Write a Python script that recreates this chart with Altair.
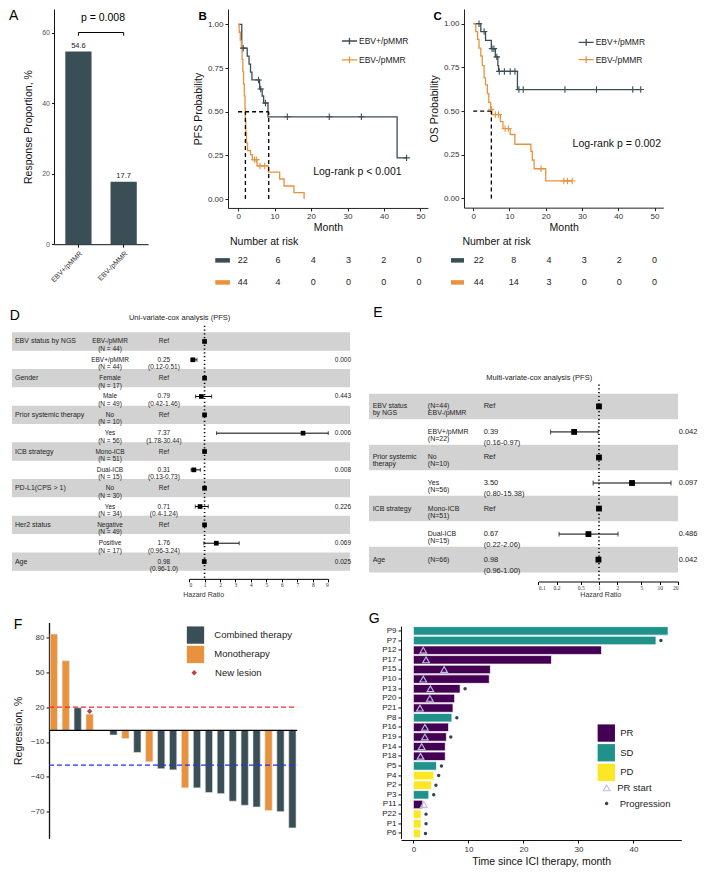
import altair as alt
import pandas as pd

K = 0.98


def P(v):
    return round(v * K, 2)


FONT = "Liberation Sans"
DARK = "#3A4E56"
ORANGE = "#E8923E"
PURPLE = "#440154"
TEAL = "#21918C"
YELLOW = "#FDE725"
RED_PT = "#B5454A"
BAND = "#D2D2D2"
TRI = "#BDBDE3"
DOT = "#2F484F"
PLUS = "M-1,0L1,0M0,-1L0,1"
LEG_PLUS = "M-1,0L1,0M0,-0.45L0,0.45"

# ====================== DATA ======================
GROUPS = ["EBV+/pMMR", "EBV-/pMMR"]

# A
A_values = [54.6, 17.7]
A_labels = ["54.6", "17.7"]
A_ticks = [0, 20, 40, 60]
A_pval = "p = 0.008"

# B (PFS)
PFS_pos_t = [0, 1.0, 2.5, 3.0, 3.4, 3.8, 5.9, 6.6, 7.0, 8.2, 43.6, 46.2]
PFS_pos_s = [1.0, 0.864, 0.818, 0.773, 0.727, 0.682, 0.630, 0.590, 0.550, 0.471, 0.236, 0.236]
PFS_pos_cens_t = [1.4, 5.6, 6.2, 7.5, 13.5, 25.0, 33.8, 46.2]
PFS_pos_cens_s = [0.864, 0.682, 0.630, 0.550, 0.471, 0.471, 0.471, 0.236]
PFS_neg_t = [0, 0.3, 0.6, 0.9, 1.1, 1.3, 1.5, 1.7, 1.9, 2.0, 2.1, 2.3, 2.6, 3.4, 3.9, 5.2, 8.3, 11.4, 12.6, 15.3, 18.1]
PFS_neg_s = [1.0, 0.955, 0.909, 0.864, 0.80, 0.73, 0.66, 0.59, 0.52, 0.45, 0.38, 0.32, 0.277, 0.255, 0.226, 0.19, 0.155, 0.115, 0.075, 0.037, 0.0]
PFS_neg_cens_t = [4.5, 5.0, 6.0, 7.3]
PFS_neg_cens_s = [0.226, 0.226, 0.19, 0.19]
PFS_medians = [2.0, 8.4]
PFS_logrank = "Log-rank  p < 0.001"

# C (OS)
OS_pos_t = [0, 2.1, 3.4, 5.0, 6.1, 6.8, 7.0, 12.2, 46.2]
OS_pos_s = [1.0, 0.955, 0.905, 0.857, 0.81, 0.76, 0.727, 0.623, 0.623]
OS_pos_cens_t = [1.6, 3.0, 5.2, 5.7, 6.5, 7.2, 8.6, 10.2, 11.5, 12.6, 13.8, 25.3, 34.0, 44.0, 46.2]
OS_pos_cens_s = [1.0, 0.955, 0.857, 0.857, 0.81, 0.727, 0.727, 0.727, 0.727, 0.623, 0.623, 0.623, 0.623, 0.623, 0.623]
OS_neg_t = [0, 0.7, 1.2, 1.6, 2.1, 2.5, 3.0, 3.4, 3.9, 4.3, 4.8, 5.2, 7.5, 8.2, 10.2, 11.5, 15.9, 16.3, 16.8, 20.0, 27.3]
OS_neg_s = [1.0, 0.955, 0.91, 0.86, 0.815, 0.76, 0.69, 0.65, 0.60, 0.55, 0.51, 0.48, 0.44, 0.40, 0.366, 0.31, 0.27, 0.22, 0.17, 0.10, 0.10]
OS_neg_cens_t = [5.0, 6.1, 7.0, 8.8, 9.7, 18.7, 25.0, 26.0, 27.3]
OS_neg_cens_s = [0.51, 0.48, 0.48, 0.40, 0.40, 0.17, 0.10, 0.10, 0.10]
OS_medians = [5.0]
OS_logrank = "Log-rank p = 0.002"

RISK_months = [0, 10, 20, 30, 40, 50]
PFS_risk_pos = [22, 6, 4, 3, 2, 0]
PFS_risk_neg = [44, 4, 0, 0, 0, 0]
OS_risk_pos = [22, 8, 4, 3, 2, 0]
OS_risk_neg = [44, 14, 3, 0, 0, 0]

# D (uni-variate cox)
D_group = ["EBV status by NGS", "", "Gender", "", "Prior systemic therapy", "", "ICB strategy", "",
           "PD-L1(CPS > 1)", "", "Her2 status", "", "Age"]
D_sub = ["EBV-/pMMR\n(N = 44)", "EBV+/pMMR\n(N = 44)", "Female\n(N = 17)", "Male\n(N = 49)",
         "No\n(N = 10)", "Yes\n(N = 56)", "Mono-ICB\n(N = 51)", "Dual-ICB\n(N = 15)",
         "No\n(N = 30)", "Yes\n(N = 34)", "Negative\n(N = 49)", "Positive\n(N = 17)", ""]
D_hrtext = ["Ref", "0.25\n(0.12-0.51)", "Ref", "0.79\n(0.42-1.46)", "Ref", "7.37\n(1.78-30.44)",
            "Ref", "0.31\n(0.13-0.73)", "Ref", "0.71\n(0.4-1.24)", "Ref", "1.76\n(0.96-3.24)",
            "0.98\n(0.96-1.0)"]
D_hr = [1, 0.25, 1, 0.79, 1, 7.37, 1, 0.31, 1, 0.71, 1, 1.76, 0.98]
D_lo = [None, 0.12, None, 0.42, None, 1.78, None, 0.13, None, 0.4, None, 0.96, 0.96]
D_hi = [None, 0.51, None, 1.46, None, 30.44, None, 0.73, None, 1.24, None, 3.24, 1.0]
D_p = ["", "0.000", "", "0.443", "", "0.006", "", "0.008", "", "0.226", "", "0.069", "0.025"]
D_ticks = [0, 1, 2, 3, 4, 5, 6, 7, 8, 9]

# E (multi-variate cox)
E_group = ["EBV status\n by NGS", "", "Prior systemic\ntherapy", "", "ICB strategy", "", "Age"]
E_sub = ["(N=44)\nEBV-/pMMR", "EBV+/pMMR\n(N=22)", "No\n(N=10)", "Yes\n(N=56)",
         "Mono-ICB\n(N=51)", "Dual-ICB\n(N=15)", "(N=66)"]
E_hrtext = ["Ref", "0.39\n(0.16-0.97)", "Ref", "3.50\n(0.80-15.38)", "Ref", "0.67\n(0.22-2.06)",
            "0.98\n(0.96-1.00)"]
E_hr = [1, 0.39, 1, 3.50, 1, 0.67, 0.98]
E_lo = [None, 0.16, None, 0.80, None, 0.22, 0.96]
E_hi = [None, 0.97, None, 15.38, None, 2.06, 1.00]
E_p = ["", "0.042", "", "0.097", "", "0.486", "0.042"]
E_ticks = [0.1, 0.2, 0.5, 1, 2, 5, 10, 20]

# F (waterfall)
F_slots = [str(i) for i in range(1, 22)]
F_values = [83, 60, 19.5, 14, None, -4, -7, -19, -27, -33, -34, -49.5, -49.5, -53.5, -54.5,
            -61, -64.5, -66, -69, -70, -84]
F_types = ["Monotherapy", "Monotherapy", "Combined therapy", "Monotherapy", None,
           "Combined therapy", "Monotherapy", "Combined therapy", "Monotherapy",
           "Combined therapy", "Combined therapy", "Monotherapy", "Combined therapy",
           "Combined therapy", "Combined therapy", "Combined therapy", "Combined therapy",
           "Combined therapy", "Monotherapy", "Combined therapy", "Combined therapy"]
F_newlesion_slot = ["4"]
F_newlesion_val = [16.5]
F_ticks = [80, 50, 20, -10, -40, -70]
F_thresholds = [20, -30]

# G (swimmer)
G_patients = ["P9", "P7", "P12", "P17", "P15", "P10", "P13", "P20", "P21", "P8", "P16", "P19",
              "P14", "P18", "P5", "P4", "P2", "P3", "P11", "P22", "P1", "P6"]
G_duration = [46.3, 44.1, 34.2, 25.1, 14.0, 13.8, 8.5, 7.5, 7.2, 7.0, 6.4, 6.0, 5.8, 5.8,
              4.2, 3.7, 3.3, 2.8, 1.7, 1.4, 1.4, 1.3]
G_response = ["SD", "SD", "PR", "PR", "PR", "PR", "PR", "PR", "PR", "SD", "PR", "PR", "PR", "PR",
              "SD", "PD", "PD", "SD", "PR", "PD", "PD", "PD"]
G_pr_start = [None, None, 1.8, 2.3, 5.6, 1.8, 3.1, 3.0, 1.2, None, 2.1, 2.1, 1.5, 1.3,
              None, None, None, None, 1.9, None, None, None]
G_progression = [None, 45.0, None, None, None, None, 9.4, None, None, 7.9, None, 6.8, None, None,
                 5.1, 4.6, 4.1, 3.7, None, 2.3, 2.3, 2.2]
G_ticks = [0, 10, 20, 30, 40]

ONE = pd.DataFrame({"v": [0]})


def letter(txt, x, y, size=14, weight="normal"):
    return alt.Chart(ONE).mark_text(align="left", baseline="top", fontSize=size,
                                    fontWeight=weight, color="black").encode(
        x=alt.value(P(x)), y=alt.value(P(y)), text=alt.value(txt))


def spacer(w, h=1):
    return alt.Chart(ONE).mark_point(opacity=0, size=1).encode(
        x=alt.value(0), y=alt.value(0)).properties(width=P(w), height=P(h))


def anchor(x, y):
    # invisible mark that reserves layout room
    return alt.Chart(ONE).mark_point(opacity=0, size=1).encode(
        x=alt.value(P(x)), y=alt.value(P(y)))


# ====================== PANEL A ======================
def panel_a():
    W, H = 96, 240
    df = pd.DataFrame({"group": GROUPS, "value": A_values, "label": A_labels})
    xs = alt.Scale(domain=GROUPS, paddingInner=0.42, paddingOuter=0.25)
    ys = alt.Scale(domain=[0, 66.67], nice=False, zero=True)
    xax = alt.Axis(title=None, labelAngle=-45, labelFontSize=7, labelColor="#333",
                   labelPadding=2, tickSize=3, tickColor="#111", domainColor="#111", grid=False)
    yax = alt.Axis(values=A_ticks, title="Response Proportion, %", titleFontSize=10.5,
                   titleFontWeight="normal", titleColor="#111", titlePadding=8,
                   labelFontSize=7, labelColor="#555", tickSize=2.5, tickColor="#111",
                   domainColor="#111", grid=False)
    X = lambda f: alt.X(f, scale=xs, axis=xax, sort=GROUPS)
    Y = lambda f: alt.Y(f, scale=ys, axis=yax)
    bars = alt.Chart(df).mark_bar(color=DARK).encode(x=X("group:N"), y=Y("value:Q"))
    lab = alt.Chart(df).mark_text(baseline="bottom", dy=-2, fontSize=7.5, color="#222").encode(
        x=X("group:N"), y=Y("value:Q"), text="label:N")
    brk = pd.DataFrame({"a": [GROUPS[0]], "b": [GROUPS[1]], "y": [60]})
    bracket = alt.Chart(brk).mark_rule(color="black", strokeWidth=1).encode(
        x=X("a:N"), x2="b:N", y=Y("y:Q"))
    ends = pd.DataFrame({"g": GROUPS, "y": [60, 60], "y2": [59.1, 59.1]})
    bends = alt.Chart(ends).mark_rule(color="black", strokeWidth=1).encode(
        x=X("g:N"), y=Y("y:Q"), y2="y2:Q")
    pdf = pd.DataFrame({"y": [64.1], "t": [A_pval]})
    ptxt = alt.Chart(pdf).mark_text(fontSize=10.5, color="black").encode(
        x=alt.value(P(50)), y=Y("y:Q"), text="t:N")
    return alt.layer(bars, lab, bracket, bends, ptxt, letter("A", -46, 0)).properties(
        width=P(W), height=P(H))


# ====================== KM PANELS ======================
def km_panel(let, pos, neg, posc, negc, medians, lr_text, lr_xy, risk_pos, risk_neg, ytitle,
             W, H, xdom, ydom, risk_rng, leg_xy, leg_pad, nar_x, sw_x, let_xy):
    curve = pd.DataFrame({"t": pos[0] + neg[0], "s": pos[1] + neg[1],
                          "grp": [GROUPS[0]] * len(pos[0]) + [GROUPS[1]] * len(neg[0])})
    cens = pd.DataFrame({"t": posc[0] + negc[0], "s": posc[1] + negc[1],
                         "grp": [GROUPS[0]] * len(posc[0]) + [GROUPS[1]] * len(negc[0])})
    xs = alt.Scale(domain=xdom, nice=False, zero=False)
    ys = alt.Scale(domain=ydom, nice=False, zero=False)
    leg = alt.Legend(title=None, orient="none", legendX=P(leg_xy[0]), legendY=P(leg_xy[1]),
                     symbolType=LEG_PLUS, symbolSize=225, symbolStrokeWidth=1.3,
                     labelFontSize=8.5, labelColor="#222", labelOffset=1,
                     rowPadding=P(leg_pad), padding=0)
    col = alt.Color("grp:N", scale=alt.Scale(domain=GROUPS, range=[DARK, ORANGE]), legend=leg)
    xax = alt.Axis(values=RISK_months, title="Month", titleFontSize=10.5, titleFontWeight="normal",
                   titleColor="#111", titlePadding=2, labelFontSize=8, labelColor="#333",
                   labelPadding=2, tickSize=3, tickColor="#222", domainColor="#222", grid=False)
    yax = alt.Axis(values=[0, 0.25, 0.5, 0.75, 1.0], format=".2f", title=ytitle,
                   titleFontSize=10.5, titleFontWeight="normal", titleColor="#111",
                   titlePadding=4, labelFontSize=8, labelColor="#333", labelPadding=2,
                   tickSize=3, tickColor="#222", domainColor="#222", grid=False)
    Y = lambda f: alt.Y(f, scale=ys, axis=yax)
    line = alt.Chart(curve).mark_line(interpolate="step-after", strokeWidth=1.3).encode(
        x=alt.X("t:Q", scale=xs, axis=xax), y=Y("s:Q"), color=col)
    pts = alt.Chart(cens).mark_point(shape=PLUS, size=42, filled=False, strokeWidth=1.1,
                                     opacity=1).encode(
        x=alt.X("t:Q", scale=xs, axis=None), y=Y("s:Q"), color=col)
    mlast = max(medians)
    med_df = pd.DataFrame({"x": [0] + medians, "x2": [mlast] + medians,
                           "y": [0.5] + [0] * len(medians), "y2": [0.5] * (len(medians) + 1)})
    med = alt.Chart(med_df).mark_rule(strokeDash=[4, 3], strokeWidth=1.3, color="black").encode(
        x=alt.X("x:Q", scale=xs, axis=None), x2="x2:Q", y=Y("y:Q"), y2="y2:Q")
    lr = alt.Chart(pd.DataFrame({"x": [lr_xy[0]], "y": [lr_xy[1]], "t": [lr_text]})).mark_text(
        fontSize=10.5, color="#111").encode(
        x=alt.X("x:Q", scale=xs, axis=None), y=Y("y:Q"), text="t:N")
    rx = alt.X("m:Q", scale=alt.Scale(domain=[0, 50], range=[P(risk_rng[0]), P(risk_rng[1])]),
               axis=None)
    r1 = alt.Chart(pd.DataFrame({"m": RISK_months, "n": risk_pos})).mark_text(
        fontSize=9, color="#222").encode(x=rx, y=alt.value(P(256.5)), text="n:Q")
    r2 = alt.Chart(pd.DataFrame({"m": RISK_months, "n": risk_neg})).mark_text(
        fontSize=9, color="#222").encode(x=rx, y=alt.value(P(279)), text="n:Q")
    nar = alt.Chart(ONE).mark_text(align="left", fontSize=10.5, color="#111").encode(
        x=alt.value(P(nar_x)), y=alt.value(P(238)), text=alt.value("Number at risk"))
    sw1 = alt.Chart(ONE).mark_rect(color=DARK).encode(
        x=alt.value(P(sw_x[0])), x2=alt.value(P(sw_x[1])),
        y=alt.value(P(254.2)), y2=alt.value(P(258.8)))
    sw2 = alt.Chart(ONE).mark_rect(color=ORANGE).encode(
        x=alt.value(P(sw_x[0])), x2=alt.value(P(sw_x[1])),
        y=alt.value(P(276.7)), y2=alt.value(P(281.3)))
    return alt.layer(line, pts, med, lr, r1, r2, nar, sw1, sw2,
                     letter(let, let_xy[0], let_xy[1], size=11.5, weight="bold")).resolve_scale(
        x="independent").properties(width=P(W), height=P(H))


def panel_b():
    return km_panel("B", (PFS_pos_t, PFS_pos_s), (PFS_neg_t, PFS_neg_s),
                    (PFS_pos_cens_t, PFS_pos_cens_s), (PFS_neg_cens_t, PFS_neg_cens_s),
                    PFS_medians, PFS_logrank, (32.7, 0.157), PFS_risk_pos, PFS_risk_neg,
                    "PFS Probability", 204, 203, [-2.77, 52.05], [-0.0505, 1.088],
                    (15, 195), (115.3, 24), 4, 2, (-13, 2), (-30, 2))


def panel_c():
    return km_panel("C", (OS_pos_t, OS_pos_s), (OS_neg_t, OS_neg_s),
                    (OS_pos_cens_t, OS_pos_cens_s), (OS_neg_cens_t, OS_neg_cens_s),
                    OS_medians, OS_logrank, (39.6, 0.314), OS_risk_pos, OS_risk_neg,
                    "OS Probability", 203.4, 202.7, [-2.54, 52.43], [-0.0527, 1.084],
                    (15, 194.4), (116, 25.3), 2.4, -1.6, (-13.3, 0), (-31, 2))


# ====================== FOREST PANELS ======================
def panel_d():
    W, H = 345, 258.3
    ids = ["d%d" % i for i in range(len(D_hr))]
    df = pd.DataFrame({"row": ids, "grp": D_group, "sub": D_sub, "hrt": D_hrtext, "hr": D_hr,
                       "lo": D_lo, "hi": D_hi, "p": D_p,
                       "band": [i % 2 == 0 for i in range(len(ids))]})
    Yr = alt.Y("row:N", scale=alt.Scale(domain=ids, range=[P(6.7), P(250)], paddingInner=0,
                                        paddingOuter=0), axis=None)
    xs = alt.Scale(domain=[0, 9], range=[P(180.7), P(322.7)], nice=False, zero=False, clamp=True)
    xax = alt.Axis(values=D_ticks, title="Hazard Ratio", titleFontSize=7, titleFontWeight="normal",
                   titleColor="#333", titleX=P(195), titleY=P(16), titleAlign="center",
                   titleBaseline="middle", labelFontSize=5.5, labelFont="Liberation Serif",
                   labelColor="#333", labelPadding=1, tickSize=3, tickColor="black",
                   domainColor="black", grid=False)
    X = lambda f: alt.X(f, scale=xs, axis=xax)
    bands = alt.Chart(df).transform_filter("datum.band").mark_rect(color=BAND).encode(
        y=Yr, x=alt.value(0), x2=alt.value(P(W)))
    vline = alt.Chart(pd.DataFrame({"h": [1]})).mark_rule(
        color="black", strokeWidth=1.6, strokeDash=[1.2, 2.6]).encode(
        x=X("h:Q"), y=alt.value(0), y2=alt.value(P(H)))
    ci = alt.Chart(df).mark_rule(color="black", strokeWidth=1).encode(x=X("lo:Q"), x2="hi:Q", y=Yr)
    cap1 = alt.Chart(df).mark_tick(color="black", thickness=1, size=P(4)).encode(x=X("lo:Q"), y=Yr)
    cap2 = alt.Chart(df).mark_tick(color="black", thickness=1, size=P(4)).encode(x=X("hi:Q"), y=Yr)
    sq = alt.Chart(df).mark_square(color="black", size=22, opacity=1).encode(x=X("hr:Q"), y=Yr)
    t_grp = alt.Chart(df).mark_text(align="left", fontSize=7, color="#222").encode(
        x=alt.value(P(3)), y=Yr, text="grp:N")
    t_sub = alt.Chart(df).mark_text(align="center", fontSize=6.5, lineHeight=7.5, lineBreak="\n",
                                    color="#222").encode(x=alt.value(P(100)), y=Yr, text="sub:N")
    t_hr = alt.Chart(df).mark_text(align="center", fontSize=6.5, lineHeight=7.5, lineBreak="\n",
                                   color="#222").encode(x=alt.value(P(155)), y=Yr, text="hrt:N")
    t_p = alt.Chart(df).mark_text(align="right", fontSize=6.5, color="#222").encode(
        x=alt.value(P(346)), y=Yr, text="p:N")
    title = alt.Chart(ONE).mark_text(fontSize=7.5, color="#222").encode(
        x=alt.value(P(171)), y=alt.value(P(-8)), text=alt.value("Uni-variate-cox analysis (PFS)"))
    return alt.layer(bands, vline, ci, cap1, cap2, sq, t_grp, t_sub, t_hr, t_p, title,
                     letter("D", -2.3, -17), anchor(0, -23)).properties(width=P(W), height=P(H))


def panel_e():
    W, H = 315.3, 261
    ids = ["e%d" % i for i in range(len(E_hr))]
    df = pd.DataFrame({"row": ids, "grp": E_group, "sub": E_sub, "hrt": E_hrtext, "hr": E_hr,
                       "lo": E_lo, "hi": E_hi, "p": E_p,
                       "band": [i % 2 == 0 for i in range(len(ids))]})
    Yr = alt.Y("row:N", scale=alt.Scale(domain=ids, range=[P(69.3), P(251.7)], paddingInner=0,
                                        paddingOuter=0), axis=None)
    xs = alt.Scale(type="log", domain=[0.1, 20], range=[P(172.7), P(315.3)], nice=False, clamp=True)
    xax = alt.Axis(values=E_ticks, format="~g", title="Hazard Ratio", titleFontSize=7,
                   titleFontWeight="normal", titleColor="#333", titleX=P(236), titleY=P(13),
                   titleAlign="center", titleBaseline="middle", labelFontSize=5.5,
                   labelFont="Liberation Serif", labelColor="#333", labelPadding=1, tickSize=3,
                   tickColor="black", domainColor="black", grid=False)
    X = lambda f: alt.X(f, scale=xs, axis=xax)
    bands = alt.Chart(df).transform_filter("datum.band").mark_rect(color=BAND).encode(
        y=Yr, x=alt.value(0), x2=alt.value(P(W)))
    vline = alt.Chart(pd.DataFrame({"h": [1]})).mark_rule(
        color="black", strokeWidth=1.6, strokeDash=[1.2, 2.6]).encode(
        x=X("h:Q"), y=alt.value(P(60)), y2=alt.value(P(H)))
    ci = alt.Chart(df).mark_rule(color="black", strokeWidth=1).encode(x=X("lo:Q"), x2="hi:Q", y=Yr)
    cap1 = alt.Chart(df).mark_tick(color="black", thickness=1, size=P(5)).encode(x=X("lo:Q"), y=Yr)
    cap2 = alt.Chart(df).mark_tick(color="black", thickness=1, size=P(5)).encode(x=X("hi:Q"), y=Yr)
    sq = alt.Chart(df).mark_square(color="black", size=34, opacity=1).encode(x=X("hr:Q"), y=Yr)
    t_grp = alt.Chart(df).mark_text(align="left", fontSize=7, lineHeight=7, lineBreak="\n",
                                    color="#222").encode(x=alt.value(P(3.7)), y=Yr, text="grp:N")
    t_sub = alt.Chart(df).mark_text(align="left", fontSize=7, lineHeight=7, lineBreak="\n",
                                    color="#222").encode(x=alt.value(P(60)), y=Yr, text="sub:N")
    t_hr = alt.Chart(df).mark_text(align="left", fontSize=7.5, lineHeight=11, lineBreak="\n",
                                   color="#222").encode(x=alt.value(P(117)), y=Yr, text="hrt:N")
    t_p = alt.Chart(df).mark_text(align="left", fontSize=7.5, color="#222").encode(
        x=alt.value(P(316)), y=Yr, text="p:N")
    title = alt.Chart(ONE).mark_text(fontSize=7.5, color="#222").encode(
        x=alt.value(P(173.7)), y=alt.value(P(53.3)),
        text=alt.value("Multi-variate-cox analysis (PFS)"))
    return alt.layer(bands, vline, ci, cap1, cap2, sq, t_grp, t_sub, t_hr, t_p, title,
                     letter("E", 4.3, -20)).properties(width=P(W), height=P(H))


# ====================== PANEL F ======================
def panel_f():
    W, H = 253.3, 220.3
    df = pd.DataFrame({"slot": F_slots, "val": F_values, "type": F_types})
    xs = alt.Scale(domain=F_slots, paddingInner=0.39, paddingOuter=0.1)
    ys = alt.Scale(domain=[-93, 93], nice=False, zero=False)
    yax = alt.Axis(values=F_ticks, title="Regression, %", titleFontSize=10.5,
                   titleFontWeight="normal", titleColor="#111", titlePadding=7, labelFontSize=8,
                   labelColor="#333", labelPadding=2, tickSize=3, tickColor="#111",
                   domainColor="#111", domainWidth=1.3, grid=False)
    Y = lambda f: alt.Y(f, scale=ys, axis=yax)
    leg = alt.Legend(title=None, orient="none", legendX=P(140.3), legendY=P(3.7),
                     symbolType="square", symbolSize=300, symbolStrokeWidth=0,
                     symbolOpacity=1, labelFontSize=9.5, labelColor="#222", labelOffset=P(10),
                     rowPadding=P(1.4), padding=0)
    bars = alt.Chart(df).mark_bar(stroke="#E4E4E4", strokeWidth=0.6).encode(
        x=alt.X("slot:N", scale=xs, axis=None, sort=F_slots), y=Y("val:Q"),
        color=alt.Color("type:N", scale=alt.Scale(domain=["Combined therapy", "Monotherapy"],
                                                  range=[DARK, ORANGE]), legend=leg))
    zero = alt.Chart(pd.DataFrame({"y": [0]})).mark_rule(color="black", strokeWidth=1.3).encode(
        y=Y("y:Q"), x=alt.value(0), x2=alt.value(P(W)))
    red = alt.Chart(pd.DataFrame({"y": [F_thresholds[0]]})).mark_rule(
        color="#F0282A", strokeWidth=1.3, strokeDash=[5, 3]).encode(
        y=Y("y:Q"), x=alt.value(0), x2=alt.value(P(W)))
    blue = alt.Chart(pd.DataFrame({"y": [F_thresholds[1]]})).mark_rule(
        color="#1F33E6", strokeWidth=1.3, strokeDash=[5, 3]).encode(
        y=Y("y:Q"), x=alt.value(0), x2=alt.value(P(W)))
    nl = pd.DataFrame({"slot": F_newlesion_slot, "val": F_newlesion_val, "k": ["New lesion"]})
    leg2 = alt.Legend(title=None, orient="none", legendX=P(143.3), legendY=P(46.6),
                      symbolSize=30, symbolFillColor=RED_PT, symbolStrokeColor=RED_PT,
                      labelFontSize=9.5, labelColor="#222", labelOffset=P(16.5), padding=0)
    dia = alt.Chart(nl).mark_point(filled=True, color=RED_PT, size=30, opacity=1).encode(
        x=alt.X("slot:N", scale=xs, axis=None, sort=F_slots), y=Y("val:Q"),
        shape=alt.Shape("k:N", scale=alt.Scale(domain=["New lesion"], range=["diamond"]),
                        legend=leg2))
    return alt.layer(bars, zero, red, blue, dia, letter("F", -36, -5)).properties(
        width=P(W), height=P(H))


# ====================== PANEL G ======================
def panel_g():
    W, H = 286, 222
    df = pd.DataFrame({"pt": G_patients, "dur": G_duration, "resp": G_response,
                       "tri": G_pr_start, "prog": G_progression})
    df["m1"] = "PR start"
    df["m2"] = "Progression"
    Yp = alt.Y("pt:N", sort=G_patients,
               scale=alt.Scale(domain=G_patients, range=[P(3.7), P(220.2)], paddingInner=0.12,
                               paddingOuter=0.06),
               axis=alt.Axis(title=None, labelFontSize=8, labelColor="#222", labelPadding=2,
                             tickSize=3, tickColor="#111", domainColor="#111", grid=False))
    xs = alt.Scale(domain=[-2.25, 48.7], nice=False, zero=False)
    xax = alt.Axis(values=G_ticks, title="Time since ICI therapy, month", titleFontSize=10.5,
                   titleFontWeight="normal", titleColor="#111", titlePadding=3, labelFontSize=8,
                   labelColor="#333", labelPadding=2, tickSize=3, tickColor="#111",
                   domainColor="#111", grid=False)
    X = lambda f: alt.X(f, scale=xs, axis=xax)
    leg = alt.Legend(title=None, orient="none", legendX=P(200.3), legendY=P(103.7),
                     symbolType="square", symbolSize=300, symbolStrokeWidth=0, symbolOpacity=1,
                     labelFontSize=9.5, labelColor="#222", labelOffset=P(5), rowPadding=P(1.7),
                     padding=0)
    bars = alt.Chart(df).mark_bar(stroke="white", strokeWidth=0.7).encode(
        y=Yp, x=X("dur:Q"),
        color=alt.Color("resp:N", scale=alt.Scale(domain=["PR", "SD", "PD"],
                                                  range=[PURPLE, TEAL, YELLOW]), legend=leg))
    leg_t = alt.Legend(title=None, orient="none", legendX=P(205), legendY=P(164),
                       symbolSize=45, symbolStrokeColor=TRI, symbolStrokeWidth=1.1,
                       symbolFillColor="transparent", labelFontSize=9.5, labelColor="#222",
                       labelOffset=P(6), padding=0)
    tri = alt.Chart(df).transform_filter("isValid(datum.tri)").mark_point(
        filled=False, color=TRI, strokeWidth=1.1, size=45, opacity=1).encode(
        y=Yp, x=X("tri:Q"),
        shape=alt.Shape("m1:N", scale=alt.Scale(domain=["PR start"], range=["triangle-up"]),
                        legend=leg_t))
    leg_d = alt.Legend(title=None, orient="none", legendX=P(205), legendY=P(180),
                       symbolSize=12, symbolFillColor=DOT, symbolStrokeColor=DOT,
                       labelFontSize=9.5, labelColor="#222", labelOffset=P(8.5), padding=0)
    dots = alt.Chart(df).transform_filter("isValid(datum.prog)").mark_point(
        filled=True, color=DOT, size=12, opacity=1).encode(
        y=Yp, x=X("prog:Q"),
        shape=alt.Shape("m2:N", scale=alt.Scale(domain=["Progression"], range=["circle"]),
                        legend=leg_d))
    return alt.layer(bars, tri, dots, letter("G", -33, -11)).resolve_scale(
        shape="independent").properties(width=P(W), height=P(H))


# ====================== ASSEMBLY ======================
RES = dict(color="independent", shape="independent")
row1 = alt.hconcat(spacer(42), panel_a(), spacer(80), panel_b(), spacer(36.3), panel_c(),
                   spacing=0, bounds="flush").resolve_scale(**RES)
row2 = alt.hconcat(panel_d(), spacer(18), panel_e(), spacing=0, bounds="flush")
row3 = alt.hconcat(spacer(37.7), panel_f(), spacer(104.7), panel_g(),
                   spacing=0, bounds="flush").resolve_scale(**RES)

chart = alt.vconcat(row1, row2, row3, spacing=P(14)).resolve_scale(**RES).properties(padding=0)

chart = chart.configure(font=FONT).configure_view(stroke=None).configure_axis(
    grid=False, labelFont=FONT, titleFont=FONT).configure_legend(labelFont=FONT)

chart.save("out.html", embed_options={"renderer": "svg", "actions": False})
